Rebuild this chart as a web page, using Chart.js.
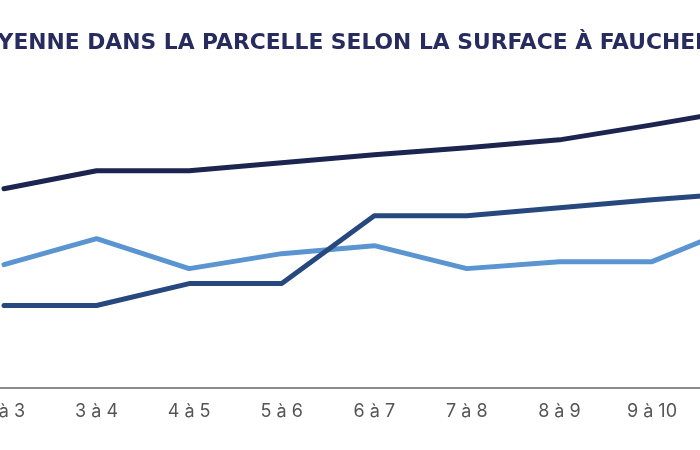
<!DOCTYPE html>
<html>
<head>
<meta charset="utf-8">
<script src="https://cdn.jsdelivr.net/npm/chart.js@4"></script>
<style>
  html, body { margin: 0; padding: 0; background: #fff; overflow: hidden; }
  body { width: 700px; height: 450px; position: relative; }
  #wrap { position: absolute; left: -121px; top: 0; width: 912px; height: 450px; }
</style>
</head>
<body>
<div id="wrap"><canvas id="graf"></canvas></div>
<script>
const titre = 'MOYENNE DANS LA PARCELLE SELON LA SURFACE À FAUCHER';
const categories = ['2 à 3', '3 à 4', '4 à 5', '5 à 6', '6 à 7', '7 à 8', '8 à 9', '9 à 10', '10 à 11'];
const serieFoncee = [20.0, 21.8, 21.8, 22.6, 23.4, 24.1, 24.9, 26.4, 28.0];
const serieMoyenne = [8.3, 8.3, 10.5, 10.5, 17.3, 17.3, 18.1, 18.9, 19.6];
const serieClaire = [12.4, 15.0, 12.0, 13.5, 14.3, 12.0, 12.7, 12.7, 16.5];

const points = arr => arr.map((v, i) => ({ x: i, y: v }));

const ctx = document.getElementById('graf').getContext('2d');
new Chart(ctx, {
  type: 'line',
  data: {
    datasets: [
      { label: 'Série 1', data: points(serieFoncee), borderColor: '#1c2550' },
      { label: 'Série 2', data: points(serieMoyenne), borderColor: '#27487e' },
      { label: 'Série 3', data: points(serieClaire), borderColor: '#5b95d1' }
    ]
  },
  options: {
    responsive: true,
    maintainAspectRatio: false,
    animation: false,
    layout: { padding: { top: 0, left: 0, right: 0, bottom: 16 } },
    elements: {
      line: { borderWidth: 5, tension: 0, borderJoinStyle: 'round', borderCapStyle: 'round' },
      point: { radius: 0 }
    },
    plugins: {
      legend: { display: false },
      tooltip: { enabled: false },
      title: {
        display: true,
        text: titre,
        color: '#272b5e',
        font: { family: 'DejaVu Sans', size: 21.8, weight: 'bold' },
        padding: { top: 30, bottom: 32.8 }
      }
    },
    scales: {
      x: {
        type: 'linear',
        min: -1.3503,
        max: 8.5016,
        afterBuildTicks: axis => {
          axis.ticks = categories.map((c, i) => ({ value: i }));
        },
        grid: { display: false, drawTicks: false },
        border: { display: true, color: '#8c8c8c', width: 2 },
        ticks: {
          padding: 12,
          color: '#555',
          font: { family: 'Inter', size: 18 },
          maxRotation: 0,
          autoSkip: false,
          callback: v => categories[v]
        }
      },
      y: {
        display: false,
        min: 0,
        max: 30
      }
    }
  }
});
</script>
</body>
</html>
